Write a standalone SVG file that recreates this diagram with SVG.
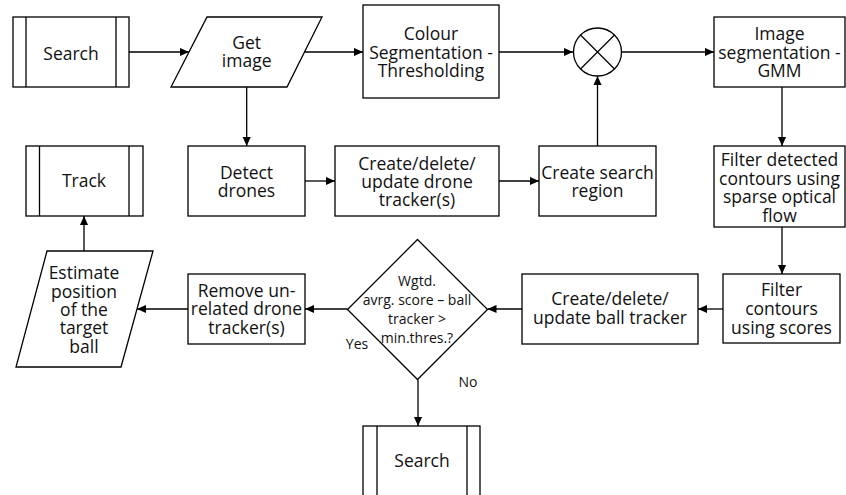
<svg xmlns="http://www.w3.org/2000/svg" width="846" height="495" viewBox="0 0 846 495">
  <style>
    .shape { fill: #fff; stroke: #000; stroke-width: 1.3; }
    .bar { fill: none; stroke: #000; stroke-width: 1.3; }
    .edge { fill: none; stroke: #000; stroke-width: 1.3; marker-end: url(#arrow); }
    text { font-family: "Open Sans", "Noto Sans", sans-serif; font-size: 17.5px; fill: #111; text-anchor: middle; }
    .small { font-size: 14px; }
  </style>
  <defs>
    <marker id="arrow" viewBox="0 0 10 10" refX="10" refY="5" markerWidth="9" markerHeight="9" markerUnits="userSpaceOnUse" orient="auto">
      <path d="M0,0.5 L10,5 L0,9.5 Z" fill="#000"/>
    </marker>
  </defs>
  <rect width="846" height="495" fill="#fff"/>

  <!-- connectors -->
  <g id="connectors">
    <line class="edge" x1="129" y1="52" x2="189" y2="52"/>
    <line class="edge" x1="304.5" y1="52" x2="363" y2="52"/>
    <line class="edge" x1="499" y1="52" x2="573" y2="52"/>
    <line class="edge" x1="621" y1="52" x2="714" y2="52"/>
    <line class="edge" x1="246.7" y1="87" x2="246.7" y2="146"/>
    <line class="edge" x1="305" y1="181" x2="335" y2="181"/>
    <line class="edge" x1="499" y1="181" x2="539" y2="181"/>
    <line class="edge" x1="597.5" y1="146" x2="597.5" y2="76"/>
    <line class="edge" x1="782" y1="87" x2="782" y2="146"/>
    <line class="edge" x1="782" y1="227" x2="782" y2="274"/>
    <line class="edge" x1="723" y1="309" x2="698" y2="309"/>
    <line class="edge" x1="522" y1="309" x2="487.5" y2="309"/>
    <line class="edge" x1="347.5" y1="309" x2="305" y2="309"/>
    <line class="edge" x1="188" y1="309" x2="137" y2="309"/>
    <line class="edge" x1="84" y1="251" x2="84" y2="216"/>
    <line class="edge" x1="418" y1="379.5" x2="418" y2="426"/>
  </g>

  <!-- Search (start) -->
  <g id="search-start">
    <rect class="shape" x="13" y="17" width="116" height="70"/>
    <line class="bar" x1="26" y1="17" x2="26" y2="87"/>
    <line class="bar" x1="116" y1="17" x2="116" y2="87"/>
    <text x="71" y="60">Search</text>
  </g>

  <!-- Get image -->
  <g id="get-image">
    <polygon class="shape" points="207,17 322,17 287,87 171,87"/>
    <text x="246.7" y="48.5">Get</text>
    <text x="246.7" y="67">image</text>
  </g>

  <!-- Colour segmentation -->
  <g id="colour-segmentation">
    <rect class="shape" x="363" y="5" width="136" height="93"/>
    <text x="431" y="40">Colour</text>
    <text x="431" y="58.5">Segmentation -</text>
    <text x="431" y="77">Thresholding</text>
  </g>

  <!-- Combine (multiply) junction -->
  <g id="combine">
    <circle class="shape" cx="597.5" cy="52" r="24"/>
    <line class="bar" x1="580.5" y1="35" x2="614.5" y2="69"/>
    <line class="bar" x1="614.5" y1="35" x2="580.5" y2="69"/>
  </g>

  <!-- Image segmentation GMM -->
  <g id="image-segmentation">
    <rect class="shape" x="714" y="17" width="131" height="70"/>
    <text x="779.5" y="40">Image</text>
    <text x="779.5" y="58.5">segmentation -</text>
    <text x="779.5" y="77">GMM</text>
  </g>

  <!-- Detect drones -->
  <g id="detect-drones">
    <rect class="shape" x="188" y="146" width="117" height="70"/>
    <text x="246.5" y="178.5">Detect</text>
    <text x="246.5" y="197">drones</text>
  </g>

  <!-- Drone tracker -->
  <g id="drone-tracker">
    <rect class="shape" x="335" y="146" width="164" height="70"/>
    <text x="417" y="169.5">Create/delete/</text>
    <text x="417" y="187.5">update drone</text>
    <text x="417" y="205.5">tracker(s)</text>
  </g>

  <!-- Search region -->
  <g id="search-region">
    <rect class="shape" x="539" y="146" width="117" height="70"/>
    <text x="597.5" y="178.5">Create search</text>
    <text x="597.5" y="197">region</text>
  </g>

  <!-- Track -->
  <g id="track">
    <rect class="shape" x="26" y="146" width="117" height="70"/>
    <line class="bar" x1="39.5" y1="146" x2="39.5" y2="216"/>
    <line class="bar" x1="129" y1="146" x2="129" y2="216"/>
    <text x="84" y="187">Track</text>
  </g>

  <!-- Filter detected contours -->
  <g id="filter-optical-flow">
    <rect class="shape" x="714" y="146" width="131" height="81"/>
    <text x="779.5" y="166">Filter detected</text>
    <text x="779.5" y="184.5">contours using</text>
    <text x="779.5" y="203">sparse optical</text>
    <text x="779.5" y="221.5">flow</text>
  </g>

  <!-- Filter contours using scores -->
  <g id="filter-scores">
    <rect class="shape" x="723" y="274" width="117" height="69"/>
    <text x="781.5" y="296">Filter</text>
    <text x="781.5" y="315">contours</text>
    <text x="781.5" y="333.5">using scores</text>
  </g>

  <!-- Ball tracker -->
  <g id="ball-tracker">
    <rect class="shape" x="522" y="274" width="176" height="70"/>
    <text x="610" y="305">Create/delete/</text>
    <text x="610" y="324">update ball tracker</text>
  </g>

  <!-- Decision -->
  <g id="decision">
    <polygon class="shape" points="417.5,239.5 487.5,309.5 417.5,379.5 347.5,309.5"/>
    <text class="small" x="417" y="286">Wgtd.</text>
    <text class="small" x="417" y="305">avrg. score – ball</text>
    <text class="small" x="417" y="324">tracker &gt;</text>
    <text class="small" x="417" y="342.5">min.thres.?</text>
    <text class="small" x="357" y="348.5">Yes</text>
    <text class="small" x="468" y="386.5">No</text>
  </g>

  <!-- Remove unrelated drone trackers -->
  <g id="remove-trackers">
    <rect class="shape" x="188" y="274" width="117" height="70"/>
    <text x="246.5" y="297">Remove un-</text>
    <text x="246.5" y="315">related drone</text>
    <text x="246.5" y="333.5">tracker(s)</text>
  </g>

  <!-- Estimate position -->
  <g id="estimate-position">
    <polygon class="shape" points="47,251 153,251 121,367 16,367"/>
    <text x="84" y="279">Estimate</text>
    <text x="84" y="297.5">position</text>
    <text x="84" y="316">of the</text>
    <text x="84" y="334">target</text>
    <text x="84" y="352.5">ball</text>
  </g>

  <!-- Search (retry) -->
  <g id="search-retry">
    <rect class="shape" x="363" y="426" width="117" height="80"/>
    <line class="bar" x1="377" y1="426" x2="377" y2="506"/>
    <line class="bar" x1="467" y1="426" x2="467" y2="506"/>
    <text x="422" y="467">Search</text>
  </g>
</svg>
